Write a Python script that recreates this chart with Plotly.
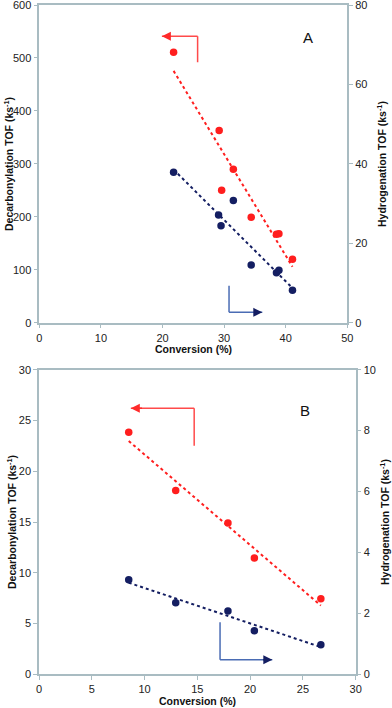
import numpy as np
import plotly.graph_objects as go

# panel A
conv_a = [21.8, 29.2, 31.5, 29.6, 34.4, 38.5, 38.9, 41.1]
decarb_a = [511, 363, 290, 250, 199, 167, 168, 120]
conv_a_h = [21.8, 29.1, 29.5, 31.5, 34.4, 38.5, 38.9, 41.1]
hydro_a = [37.9, 27.1, 24.4, 30.8, 14.5, 12.6, 13.2, 8.2]

# panel B
conv_b = [8.5, 12.95, 17.9, 20.4, 26.7]
decarb_b = [23.85, 18.1, 14.9, 11.45, 7.45]
hydro_b = [3.10, 2.35, 2.08, 1.43, 0.97]

RED = '#FF1E1E'
NAVY = '#141E62'
AXIS = '#A9BCC2'
W, H = 392, 708
FONT = 'Liberation Sans, Arial, sans-serif'


def fit(x, y):
    m, c = np.polyfit(x, y, 1)
    xs = np.array([min(x), max(x)])
    return xs, m * xs + c


fig = go.Figure()


def add_panel(x1, y1, x2, y2, xa, ya, ya2):
    fx, fy = fit(x1, y1)
    fig.add_trace(go.Scatter(x=fx, y=fy, mode='lines', xaxis=xa, yaxis=ya,
                             line=dict(color=RED, dash='dot', width=2)))
    fx, fy = fit(x2, y2)
    fig.add_trace(go.Scatter(x=fx, y=fy, mode='lines', xaxis=xa, yaxis=ya2,
                             line=dict(color=NAVY, dash='dot', width=2)))
    fig.add_trace(go.Scatter(x=x1, y=y1, mode='markers', xaxis=xa, yaxis=ya,
                             marker=dict(color=RED, size=7.5)))
    fig.add_trace(go.Scatter(x=x2, y=y2, mode='markers', xaxis=xa, yaxis=ya2,
                             marker=dict(color=NAVY, size=7.5)))


add_panel(conv_a, decarb_a, conv_a_h, hydro_a, 'x', 'y', 'y2')
add_panel(conv_b, decarb_b, conv_b, hydro_b, 'x2', 'y3', 'y4')

tickfont = dict(family=FONT, size=11, color='#222')
common = dict(showgrid=False, zeroline=False, showline=True, linecolor=AXIS,
              linewidth=1.5, ticks='outside', ticklen=4, tickcolor=AXIS,
              tickfont=tickfont, automargin=False, ticklabeloverflow='allow')

# pixel boxes of the two plot areas
A = dict(l=39.3, r=347.3, t=5, b=322.7)
B = dict(l=39, r=355.7, t=369.7, b=674.3)


def dom(p):
    return [p['l'] / W, p['r'] / W], [1 - p['b'] / H, 1 - p['t'] / H]


xa_d, ya_d = dom(A)
xb_d, yb_d = dom(B)

fig.update_layout(
    width=W, height=H, margin=dict(l=0, r=0, t=0, b=0, autoexpand=False),
    paper_bgcolor='white', plot_bgcolor='white', showlegend=False,
    xaxis=dict(domain=xa_d, range=[0, 50], dtick=10, anchor='y', mirror=True, **common),
    yaxis=dict(domain=ya_d, range=[0, 600], dtick=100, anchor='x', **common),
    yaxis2=dict(range=[0, 80], dtick=20, overlaying='y', side='right', anchor='x', **common),
    xaxis2=dict(domain=xb_d, range=[0, 30], dtick=5, anchor='y3', mirror=True, **common),
    yaxis3=dict(domain=yb_d, range=[0, 30], dtick=5, anchor='x2', **common),
    yaxis4=dict(range=[0, 10], dtick=2, overlaying='y3', side='right', anchor='x2', **common),
)

tf = dict(family=FONT, size=10.5, color='#111')
notes = [
    # axis titles (pixel positions)
    (193, 349, 'Conversion (%)', 0),
    (197, 701, 'Conversion (%)', 0),
    (9, 164, 'Decarbonylation TOF (ks<sup>-1</sup>)', -90),
    (382, 164, 'Hydrogenation TOF (ks<sup>-1</sup>)', -90),
    (11, 522, 'Decarbonylation TOF (ks<sup>-1</sup>)', -90),
    (384, 522, 'Hydrogenation TOF (ks<sup>-1</sup>)', -90),
]
for px, py, t, ang in notes:
    fig.add_annotation(x=px / W, y=1 - py / H, xref='paper', yref='paper', text='<b>' + t + '</b>',
                       showarrow=False, textangle=ang, font=tf, xanchor='center', yanchor='middle')

# panel letters
fig.add_annotation(x=43.6, y=538, xref='x', yref='y', text='A', showarrow=False,
                   font=dict(family=FONT, size=15, color='#111'))
fig.add_annotation(x=25.2, y=25.95, xref='x2', yref='y3', text='B', showarrow=False,
                   font=dict(family=FONT, size=15, color='#111'))


def elbow(xr, yr, xv, ybot, ytop, xtip, color, head, horiz_y):
    # vertical stem, horizontal run, then a short arrow carrying the head
    fig.add_shape(type='line', xref=xr, yref=yr, x0=xv, x1=xv, y0=ybot, y1=ytop,
                  line=dict(color=color, width=1.5))
    fig.add_shape(type='line', xref=xr, yref=yr, x0=xv, x1=xtip, y0=horiz_y, y1=horiz_y,
                  line=dict(color=color, width=1.5))
    back = xtip + (xv - xtip) * 0.2
    fig.add_annotation(x=xtip, y=horiz_y, ax=back, ay=horiz_y, xref=xr, yref=yr,
                       axref=xr, ayref=yr, text='', showarrow=True, arrowhead=2,
                       arrowsize=1.2, arrowwidth=1.5, arrowcolor=head)


elbow('x', 'y', 25.7, 492, 541, 19.9, '#FF4A4A', '#FF2A2A', 541)
elbow('x', 'y', 30.8, 19.6, 70, 36.2, '#4A6CB4', NAVY, 19.6)
elbow('x2', 'y3', 14.7, 22.5, 26.2, 8.7, '#FF4A4A', '#FF2A2A', 26.2)
elbow('x2', 'y3', 17.15, 1.44, 5.12, 22.1, '#4A6CB4', NAVY, 1.44)

# page body has a default 8px margin; drop it so the figure sits at the corner
fig.write_html('out.html', config={'displayModeBar': False},
               post_script="document.body.style.margin='0';")
